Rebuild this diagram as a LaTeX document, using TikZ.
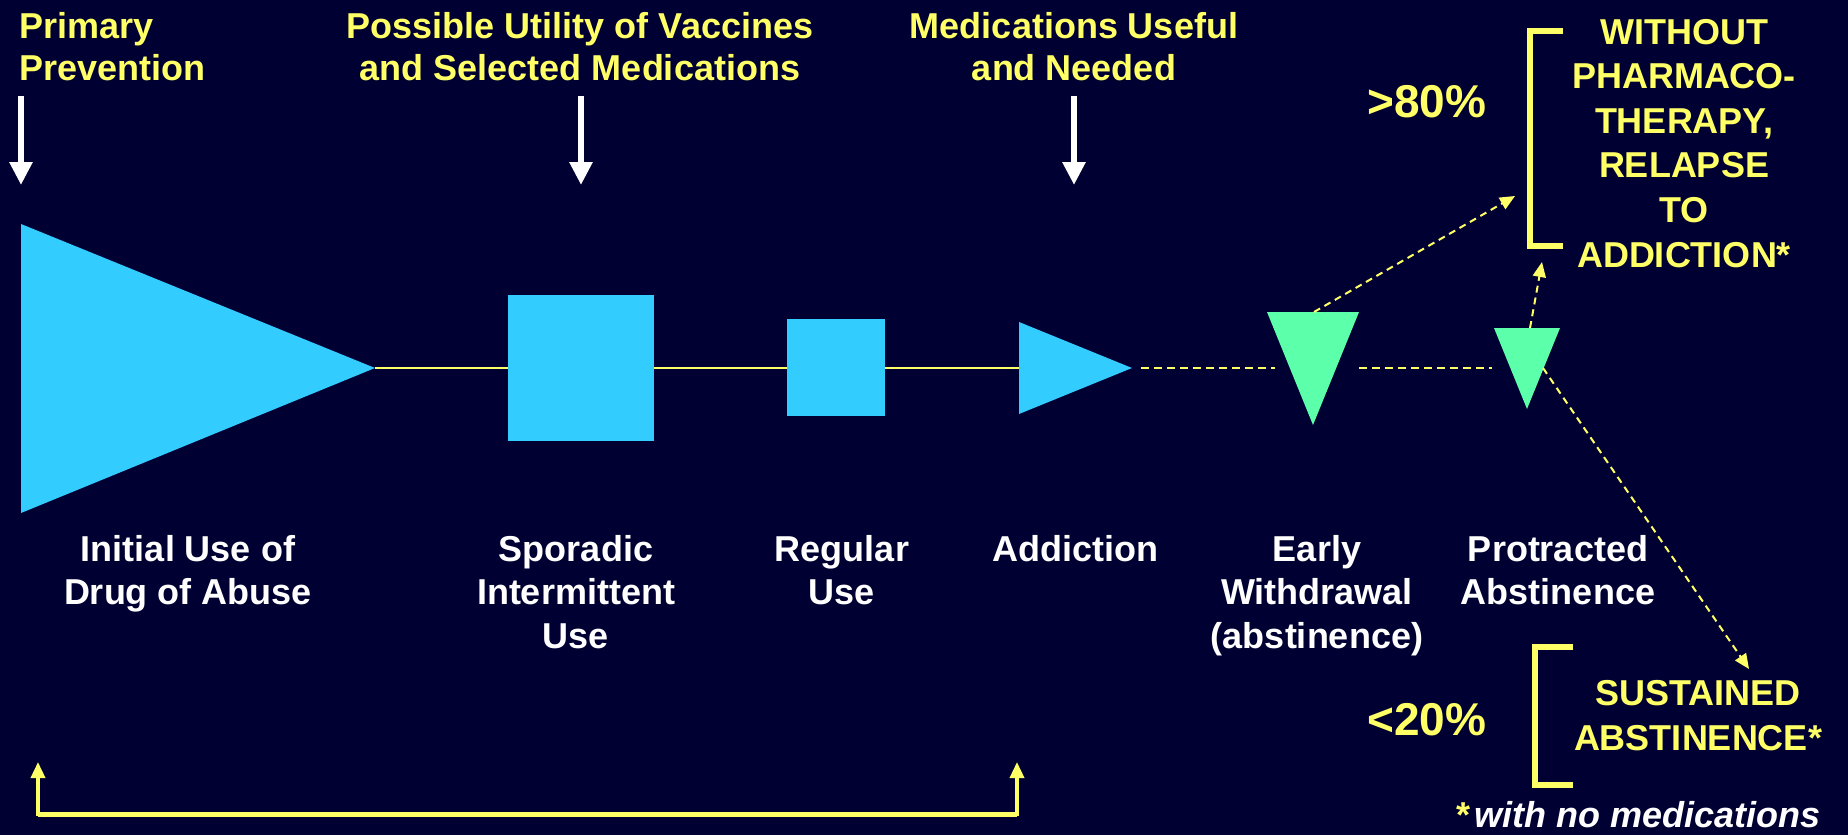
\documentclass[tikz,border=0pt]{standalone}
\usepackage{fontspec}
\setmainfont{Liberation Sans}
\usetikzlibrary{arrows.meta}
\definecolor{bgc}{HTML}{000033}
\definecolor{cyanc}{HTML}{33CCFF}
\definecolor{greenc}{HTML}{5CFFAA}
\definecolor{yelc}{HTML}{FFFF66}
\begin{document}
\begin{tikzpicture}[x=1pt,y=-1pt,
  lbl/.style={font=\fontsize{36}{43.5}\selectfont\bfseries, text=white, align=center, inner sep=0pt, anchor=base},
  toplbl/.style={lbl, text=yelc, font=\fontsize{36}{42}\selectfont\bfseries},
  caplbl/.style={lbl, text=yelc, font=\fontsize{36}{44.6}\selectfont\bfseries},
  pct/.style={lbl, text=yelc, font=\fontsize{46}{50}\selectfont\bfseries, anchor=base west},
  whitearrow/.style={draw=white, line width=6pt, -{Triangle[length=23pt,width=22pt]}},
  mainline/.style={draw=yelc, line width=2pt},
  dashline/.style={draw=yelc, line width=2.5pt, dash pattern=on 8pt off 5pt},
  dasharrow/.style={draw=yelc, line width=2pt, dash pattern=on 7pt off 5pt, -{Triangle[length=15pt,width=13pt]}},
  bracket/.style={draw=yelc, line width=5.5pt},
]
\fill[bgc] (0,0) rectangle (1848,835);
\useasboundingbox (0,0) rectangle (1848,835);

% key points
\coordinate (bigtip) at (375,368);
\coordinate (addl) at (1019,368);
\coordinate (addtip) at (1141,368);
\coordinate (g1l) at (1275,368);
\coordinate (g1r) at (1359,368);
\coordinate (g2l) at (1492,368);
\coordinate (g1top) at (1314,312);
\coordinate (g2top) at (1530,328);
\coordinate (g2right) at (1543,368);
\coordinate (relapsein) at (1515,196);
\coordinate (relapsein2) at (1542,262);
\coordinate (sustin) at (1749,669);

% main line
\draw[mainline] (bigtip) -- (addl);
\draw[dashline] (addtip) -- (g1l);
\draw[dashline] (g1r) -- (g2l);

% shapes
\fill[cyanc] (21,224) -- (bigtip) -- (21,513) -- cycle;
\fill[cyanc] (508,295) rectangle (654,441);
\fill[cyanc] (787,319) rectangle (885,416);
\fill[cyanc] (1019,322) -- (1132,368) -- (1019,414) -- cycle;
\fill[greenc] (1267,312) -- (1359,312) -- (1313,425) -- cycle;
\fill[greenc] (1494,328) -- (1560,328) -- (1527,409) -- cycle;

% dashed arrows
\draw[dasharrow] (g1top) -- (relapsein);
\draw[dasharrow] (g2top) -- (relapsein2);
\draw[dasharrow] (g2right) -- (sustin);

% top labels (anchor = baseline of last line)
\node[toplbl, anchor=base west, align=left] (prim) at (19,80) {Primary\\Prevention};
\node[toplbl] (vacc) at (580,80) {Possible Utility of Vaccines\\and Selected Medications};
\node[toplbl] (meds) at (1074,80) {Medications Useful\\and Needed};

% white arrows
\coordinate (a1s) at (21,96); \coordinate (a1e) at (21,185);
\coordinate (a2s) at (581,96); \coordinate (a2e) at (581,185);
\coordinate (a3s) at (1074,96); \coordinate (a3e) at (1074,185);
\draw[whitearrow] (a1s) -- (a1e);
\draw[whitearrow] (a2s) -- (a2e);
\draw[whitearrow] (a3s) -- (a3e);

% stage labels
\node[lbl] (initial) at (188,604.5) {Initial Use of\\Drug of Abuse};
\node[lbl] (sporadic) at (576,648) {Sporadic\\Intermittent\\Use};
\node[lbl] (regular) at (842,604.5) {Regular\\Use};
\node[lbl] (addiction) at (1075,561) {Addiction};
\node[lbl] (early) at (1317,648) {Early\\Withdrawal\\(abstinence)};
\node[lbl] (protracted) at (1558,604.5) {Protracted\\Abstinence};

% percentages
\node[pct] (p80) at (1367,117) {>80\%};
\node[pct] (p20) at (1367,735) {<20\%};

% brackets
\draw[bracket] (1563,31) -- (1530,31) -- (1530,246) -- (1563,246);
\draw[bracket] (1573,647) -- (1535,647) -- (1535,785) -- (1573,785);

\node[caplbl] (relapse) at (1684,267) {WITHOUT\\PHARMACO-\\THERAPY,\\RELAPSE\\TO\\ADDICTION*};
\node[caplbl] (sustained) at (1698,750) {SUSTAINED\\ABSTINENCE*};

\node[lbl, anchor=base west] (note) at (1456,827) {{\color{yelc}*}\kern4pt\itshape with no medications};

% bottom bracket
\coordinate (bl) at (38,762);
\coordinate (br) at (1017,762);
\coordinate (blc) at (38,814);
\coordinate (brc) at (1017,814);
\draw[draw=yelc, line width=5pt] (blc) -- (brc);
\draw[draw=yelc, line width=3.5pt, {Triangle[length=16pt,width=14pt]}-{Triangle[length=16pt,width=14pt]}] (bl) -- (blc) -- (brc) -- (br);
\end{tikzpicture}
\end{document}
